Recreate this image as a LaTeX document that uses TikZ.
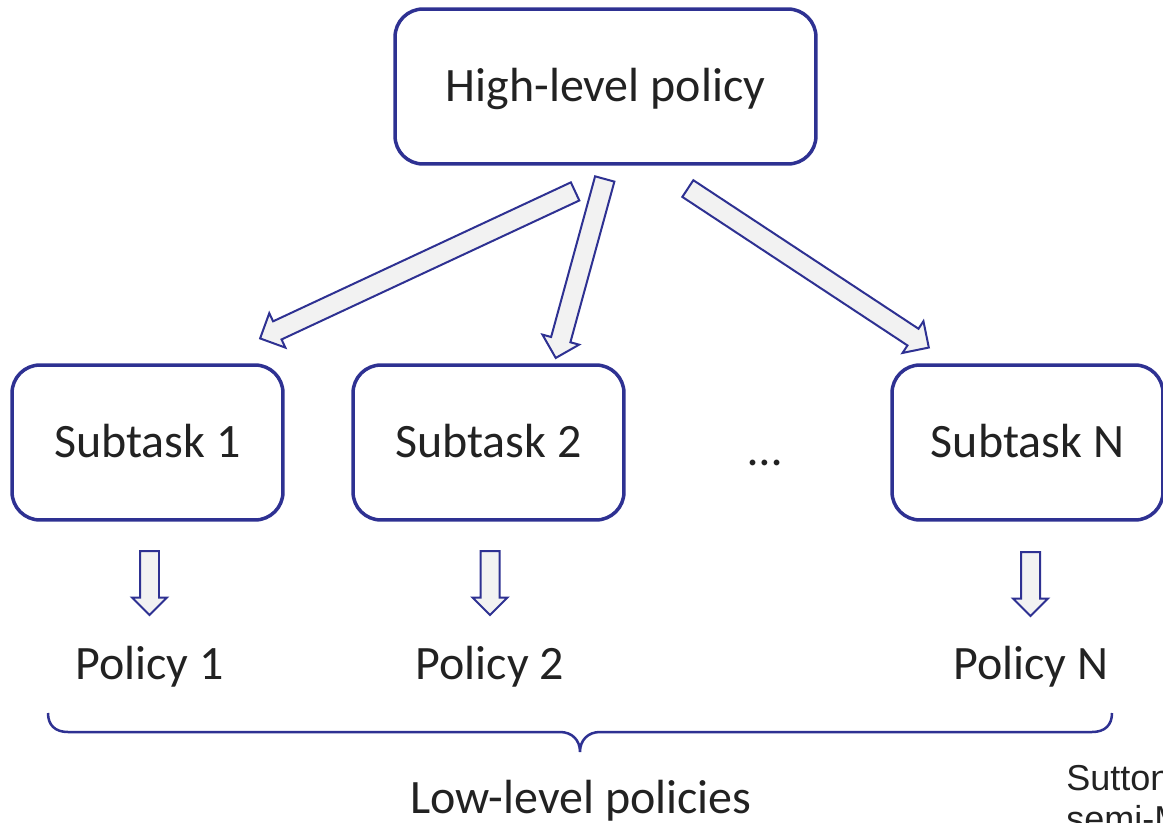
\documentclass[tikz,border=0pt]{standalone}
\usepackage{fontspec}
\setmainfont{Carlito}
\newfontfamily\citefont{Liberation Sans}
\usetikzlibrary{shapes.arrows,calc}

\definecolor{boxblue}{RGB}{46,49,146}
\definecolor{arrowgray}{RGB}{242,242,242}
\definecolor{txtgray}{RGB}{34,34,34}
\newcommand\bigfont{\fontsize{27.3}{33}\selectfont}
\newcommand\citesize{\citefont\fontsize{20.5}{24}\selectfont}

\tikzset{
  task/.style={draw=boxblue, line width=0.07cm, rounded corners=0.56cm,
    minimum width=5.42cm, minimum height=3.1cm, text=txtgray, font=\bigfont,
    text height=17.6pt, text depth=0pt},
  word/.style={text=txtgray, font=\bigfont, inner sep=0pt},
  fatarrow/.style={single arrow, draw=boxblue, fill=arrowgray, line width=0.04cm,
    inner xsep=0pt, inner ysep=0.18cm, minimum width=0.72cm,
    single arrow head extend=0.18cm, single arrow tip angle=90, anchor=tail},
  thinarrow/.style={fatarrow, inner ysep=0.17cm, minimum width=0.66cm,
    single arrow head extend=0.16cm},
  bracket/.style={draw=boxblue, line width=0.05cm}
}

% block arrow from #2 to #3
\newcommand\blockarrow[3]{%
  \path let \p1=($(#3)-(#2)$) in
    node[#1, minimum height={veclen(\x1,\y1)}, rotate={atan2(\y1,\x1)}] at (#2) {};
}

\begin{document}
\begin{tikzpicture}[x=0.02cm,y=-0.02cm]
\useasboundingbox (0,0) rectangle (1163,822);
\clip (0,0) rectangle (1163,822);

\node[task, minimum width=8.42cm] (high) at (605.5,86.5) {High-level policy};
\node[task] (sub1) at (147.5,442.5) {Subtask 1};
\node[task] (sub2) at (488.5,442.5) {Subtask 2};
\node[task] (subN) at (1027.5,442.5) {Subtask N};
\node[word, anchor=base] (dots) at (765,465) {…};

\coordinate (h1) at (576,191);  \coordinate (t1) at (261,338);
\coordinate (h2) at (605,178);  \coordinate (t2) at (556,357);
\coordinate (h3) at (687,188);  \coordinate (t3) at (928,347);
\blockarrow{fatarrow}{h1}{t1}
\blockarrow{fatarrow}{h2}{t2}
\blockarrow{fatarrow}{h3}{t3}

\coordinate (p1a) at (149.5,550);  \coordinate (p1b) at (149.5,614);
\coordinate (p2a) at (490,550);    \coordinate (p2b) at (490,614);
\coordinate (pNa) at (1030.5,551); \coordinate (pNb) at (1030.5,615);
\blockarrow{thinarrow}{p1a}{p1b}
\blockarrow{thinarrow}{p2a}{p2b}
\blockarrow{thinarrow}{pNa}{pNb}

\node[word, anchor=base] (pol1) at (149.5,679) {Policy 1};
\node[word, anchor=base] (pol2) at (490,679) {Policy 2};
\node[word, anchor=base] (polN) at (1031,679) {Policy N};

% brace under the policies
\draw[bracket] (48,713) .. controls (48,725) and (55,732) .. (68,732) -- (560,732)
  .. controls (572,732) and (580,740) .. (580,752)
  .. controls (580,740) and (588,732) .. (600,732) -- (1092,732)
  .. controls (1105,732) and (1112,725) .. (1112,713);

\node[word, anchor=base] (low) at (581,813) {Low-level policies};

\node[anchor=base west, inner sep=0pt, text=txtgray, font=\citesize]
  (cite1) at (1066,790) {Sutton};
\node[anchor=base west, inner sep=0pt, text=txtgray, font=\citesize]
  (cite2) at (1066,831) {semi-MDPs};
\end{tikzpicture}
\end{document}
